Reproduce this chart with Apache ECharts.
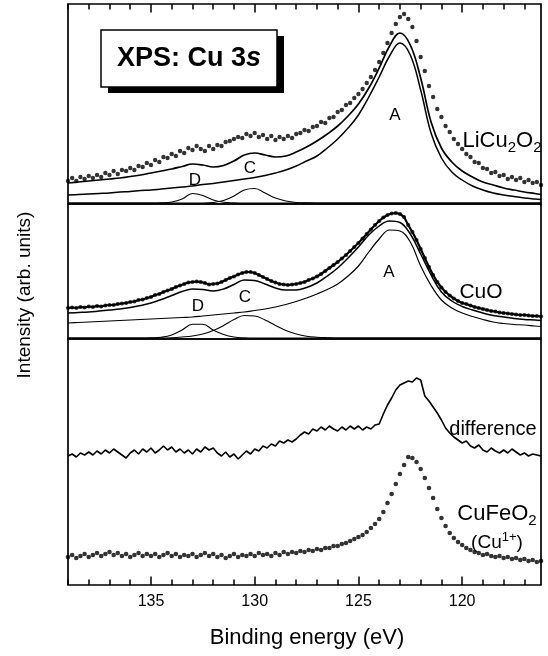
<!DOCTYPE html>
<html>
<head>
<meta charset="utf-8">
<script src="https://cdn.jsdelivr.net/npm/echarts@6/dist/echarts.min.js"></script>
<style>
html, body { margin: 0; padding: 0; background: #fff; }
#chart { width: 548px; height: 656px; }
</style>
</head>
<body>
<div id="chart"></div>
<script>
// binding energy grid of the fitted curves (eV)
const fitEnergy = [139, 138.5, 138, 137.5, 137, 136.5, 136, 135.5, 135, 134.5, 134, 133.5, 133, 132.5, 132, 131.5,
  131, 130.5, 130, 129.5, 129, 128.5, 128, 127.5, 127, 126.5, 126, 125.5, 125, 124.5, 124, 123.5, 123, 122.5,
  122, 121.5, 121, 120.5, 120, 119.5, 119, 118.5, 118, 117.5, 117, 116.5, 116.2]

// binding energy grid of the measured spectra (eV)
const dataEnergy = [
  139, 138.8, 138.6, 138.4, 138.2, 138, 137.8, 137.6, 137.4, 137.2,
  137, 136.8, 136.6, 136.4, 136.2, 136, 135.8, 135.6, 135.4, 135.2,
  135, 134.8, 134.6, 134.4, 134.2, 134, 133.8, 133.6, 133.4, 133.2,
  133, 132.8, 132.6, 132.4, 132.2, 132, 131.8, 131.6, 131.4, 131.2,
  131, 130.8, 130.6, 130.4, 130.2, 130, 129.8, 129.6, 129.4, 129.2,
  129, 128.8, 128.6, 128.4, 128.2, 128, 127.8, 127.6, 127.4, 127.2,
  127, 126.8, 126.6, 126.4, 126.2, 126, 125.8, 125.6, 125.4, 125.2,
  125, 124.8, 124.6, 124.4, 124.2, 124, 123.8, 123.6, 123.4, 123.2,
  123, 122.8, 122.6, 122.4, 122.2, 122, 121.8, 121.6, 121.4, 121.2,
  121, 120.8, 120.6, 120.4, 120.2, 120, 119.8, 119.6, 119.4, 119.2,
  119, 118.8, 118.6, 118.4, 118.2, 118, 117.8, 117.6, 117.4, 117.2,
  117, 116.8, 116.6, 116.4, 116.2]

// LiCu2O2 (top panel)
const liData = [
  23, 26, 23, 27, 25, 28, 26, 29, 27, 31,
  29, 33, 30, 34, 33, 36, 34, 38, 37, 41,
  39, 44, 42, 47, 46, 50, 48, 53, 51, 56,
  54, 58, 55, 53, 58, 55, 59, 58, 62, 63,
  65, 67, 66, 70, 68, 71, 67, 69, 65, 68,
  64, 67, 65, 68, 66, 70, 71, 74, 73, 77,
  78, 82, 81, 86, 87, 92, 94, 99, 101, 106,
  110, 115, 121, 127, 134, 142, 151, 161, 171, 180,
  187, 190, 185, 177, 163, 147, 133, 118, 107, 95,
  87, 78, 72, 65, 60, 55, 50, 47, 42, 41,
  36, 35, 31, 32, 28, 29, 25, 27, 24, 26,
  22, 24, 21, 22, 19]
const liFit = [21, 22, 23, 24, 25, 26, 27.5, 29, 31, 33, 35, 37.5, 40, 39, 37, 38.5, 43, 49, 51, 49, 47, 48,
  52, 57, 63, 70, 78, 88, 100, 116, 136, 158, 171, 159, 126, 82, 56, 42, 33, 27, 22, 19, 16, 14, 12, 10.5, 9.5]
const liPeakA = [9, 9.5, 10, 10.5, 11, 12, 12.5, 13.5, 14, 15, 16, 17, 18, 19.5, 20.5, 22, 23.5, 25, 26.5, 28.5,
  31, 34, 38, 43, 48, 56, 65, 76, 89, 107, 127, 148, 161, 149, 114, 71, 46, 32, 24, 18, 14, 11, 9, 7.5, 6, 5, 4.5]
const liPeakC = [1, 1, 1, 1, 1, 1, 1, 1, 1, 1, 1, 1, 1, 1, 1.5, 3.5, 8, 14, 15.5, 11, 6, 3, 1.5, 1.1,
  1, 1, 1, 1, 1, 1, 1, 1, 1, 1, 1, 1, 1, 1, 1, 1, 1, 1, 1, 1, 1, 1, 1]
const liPeakD = [1, 1, 1, 1, 1, 1, 1, 1, 1, 1.2, 2, 5, 10.5, 8.5, 4, 1.8, 1.2,
  1, 1, 1, 1, 1, 1, 1, 1, 1, 1, 1, 1, 1, 1, 1, 1, 1, 1, 1, 1, 1, 1, 1, 1, 1, 1, 1, 1, 1, 1]

// CuO (middle panel)
const cuoData = [
  31, 31.5, 31, 32, 31.5, 32.5, 32, 33, 32.5, 33.5,
  34, 34, 35, 35.5, 36, 37, 37.5, 39, 39.5, 41,
  42, 44, 45, 47, 48.5, 50, 52, 53.5, 55, 56.5,
  57, 57.5, 57, 56, 54.5, 55, 55.5, 57, 59, 61,
  62.5, 64.5, 66, 67, 67, 66, 64, 62, 60, 58,
  56.5, 55, 54.5, 54, 54.5, 55, 56, 57, 59, 60.5,
  62.5, 65, 68, 71, 74, 77, 80.5, 84, 88, 92,
  96, 100.5, 105, 109.5, 114, 118, 121.5, 124, 125.5, 126,
  125, 122, 114, 107, 99, 90, 81, 72, 64, 57,
  51.5, 47, 43.5, 40.5, 38, 36, 35, 33.5, 32, 31,
  30, 29, 28, 27.5, 26.5, 26, 25.5, 25, 24.5, 24,
  24, 23.5, 23, 23, 22.5]
const cuoFit = [26, 26.5, 27, 28, 29, 30, 31.5, 33.5, 36, 39.5, 43.5, 47.5, 50, 49.5, 48, 50, 54.5, 59, 58.5, 55,
  51, 49, 49, 51.5, 56, 63, 71, 81, 92, 104, 113, 118, 116.5, 105, 85, 64, 47, 38, 32.5, 29, 26, 23.5, 22, 20.5,
  19.5, 19, 18.5]
const cuoPeakA = [16, 16.5, 17, 17.5, 18, 18.5, 19, 19.5, 20, 20.5, 21, 21.5, 22, 23, 24, 25, 26, 27, 28.5, 30,
  32, 34.5, 37.5, 41, 45, 49.5, 55, 63, 73, 87, 100, 109, 108, 97, 73, 53.5, 39, 31, 26, 22.5, 19.5, 17, 15.5,
  14.5, 14, 13, 12.5]
const cuoPeakC = [1, 1, 1, 1, 1, 1, 1, 1, 1, 1, 1.3, 2, 3, 5, 8.5, 13.5, 19.5, 23.5, 23, 19, 13.5, 8.5, 5, 2.8,
  1.8, 1.3, 1, 1, 1, 1, 1, 1, 1, 1, 1, 1, 1, 1, 1, 1, 1, 1, 1, 1, 1, 1, 1]
const cuoPeakD = [1, 1, 1, 1, 1, 1, 1, 1, 1.2, 1.8, 4, 9, 14.7, 14.7, 9, 4.5, 2, 1.2,
  1, 1, 1, 1, 1, 1, 1, 1, 1, 1, 1, 1, 1, 1, 1, 1, 1, 1, 1, 1, 1, 1, 1, 1, 1, 1, 1, 1, 1]

// difference and CuFeO2 (bottom panel)
const diffCurve = [
  129, 131, 128, 132, 130, 133, 130, 134, 131, 135,
  132, 136, 133, 130, 127, 132, 135, 131, 136, 133,
  137, 132, 135, 139, 135, 138, 133, 136, 132, 135,
  131, 136, 133, 138, 135, 137, 132, 129, 133, 128,
  131, 126, 130, 134, 131, 136, 134, 139, 137, 141,
  139, 144, 142, 145, 143, 146, 150, 153, 151, 156,
  154, 158, 155, 159, 156, 154, 158, 155, 159, 156,
  159, 155, 158, 156, 160, 161, 171, 180, 187, 195,
  200, 202, 204, 203, 207, 205, 189, 184, 178, 172,
  165, 157, 152, 148, 145, 142, 144, 139, 137, 140,
  135, 133, 137, 134, 132, 135, 132, 136, 133, 130,
  132, 129, 131, 130, 129]
const cuFeData = [
  28, 30, 27, 29, 31, 28, 30, 32, 29, 31,
  33, 30, 32, 29, 31, 28, 30, 32, 29, 31,
  29, 31, 28, 30, 32, 29, 31, 28, 30, 29,
  31, 28, 30, 32, 29, 31, 28, 30, 27, 29,
  31, 28, 30, 29, 31, 29, 32, 30, 31, 29,
  32, 30, 33, 31, 33, 32, 34, 33, 35, 34,
  36, 35, 37, 37, 39, 39, 41, 42, 44, 46,
  48, 50, 53, 57, 61, 66, 73, 82, 91, 101,
  111, 120, 128, 127, 123, 116, 107, 97, 87, 76,
  67, 59, 52, 47, 43, 40, 37, 35, 33, 32,
  30, 31, 29, 28, 29, 27, 28, 26, 27, 25,
  26, 24, 25, 23, 24]

const FONT = "'Liberation Sans', Arial, Helvetica, sans-serif"

// plot frame: 68 px from the left, 7 px from the right, 116.2 .. 139 eV across
const PX_PER_EV = 473 / 22.8

const chart = echarts.init(document.getElementById("chart"))

function pairs (xs, ys) {
  return xs.map((x, i) => [x, ys[i]])
}

function dots (xIdx, yIdx, values, size) {
  return {
    type: "scatter",
    xAxisIndex: xIdx,
    yAxisIndex: yIdx,
    data: pairs(dataEnergy, values),
    symbol: "circle",
    symbolSize: size,
    itemStyle: { color: "#000" },
    silent: true
  }
}

function curve (xIdx, yIdx, xs, values, width, smooth) {
  return {
    type: "line",
    xAxisIndex: xIdx,
    yAxisIndex: yIdx,
    data: pairs(xs, values),
    showSymbol: false,
    smooth: smooth,
    lineStyle: { color: "#000", width: width },
    silent: true
  }
}

function label (text, x, y, size, rich) {
  return {
    type: "text",
    x: x,
    y: y,
    silent: true,
    style: {
      text: text,
      fill: "#000",
      font: size + "px " + FONT,
      align: "center",
      verticalAlign: "middle",
      rich: rich
    }
  }
}

const panelBase = {
  left: 68,
  right: 7,
  show: true,
  borderColor: "#000",
  borderWidth: 1.7,
  backgroundColor: "transparent",
  containLabel: false,
  outerBoundsMode: "none"
}

// invisible grids that only carry the tick marks (min must sit on a tick)
const tickGridMinor = { left: 68, right: 7 + 0.8 * PX_PER_EV, show: false, containLabel: false, outerBoundsMode: "none" }
const tickGridMajor = {
  left: 68 + 4 * PX_PER_EV,
  right: 7 + 3.8 * PX_PER_EV,
  show: false,
  containLabel: false,
  outerBoundsMode: "none"
}

const xBase = {
  type: "value",
  min: 116.2,
  max: 139,
  inverse: true,
  axisLine: { show: false, onZero: false },
  splitLine: { show: false },
  axisLabel: { show: false },
  axisTick: { show: false }
}

function tickAxis (gridIndex, position, min, max, interval, length, showLabel) {
  return {
    type: "value",
    gridIndex: gridIndex,
    position: position,
    min: min,
    max: max,
    interval: interval,
    inverse: true,
    // keep the axis on the frame edge, not on y = 0
    axisLine: { show: false, onZero: false },
    splitLine: { show: false },
    axisTick: { show: true, inside: true, length: length, lineStyle: { color: "#000", width: 1.5 } },
    axisLabel: {
      show: showLabel,
      color: "#000",
      fontSize: 16,
      fontFamily: FONT,
      margin: 9
    }
  }
}

const hiddenY = (gridIndex, max) => ({ type: "value", gridIndex: gridIndex, min: 0, max: max, show: false })

const subRich = {
  sub: { fontSize: 15, fontFamily: FONT, verticalAlign: "bottom", lineHeight: 28 },
  sup: { fontSize: 13, fontFamily: FONT, verticalAlign: "top", lineHeight: 24 },
  m: { fontSize: 22, fontFamily: FONT, lineHeight: 28 },
  p: { fontSize: 19, fontFamily: FONT, lineHeight: 24 }
}

const option = {
  animation: false,
  backgroundColor: "#fff",
  grid: [
    { ...panelBase, top: 4, height: 200 },
    { ...panelBase, top: 204, height: 135 },
    { ...panelBase, top: 339, height: 246 },
    { ...tickGridMinor, top: 4, height: 200 },
    { ...tickGridMajor, top: 4, height: 200 },
    { ...tickGridMinor, top: 339, height: 246 },
    { ...tickGridMajor, top: 339, height: 246 }
  ],
  xAxis: [
    { ...xBase, gridIndex: 0 },
    { ...xBase, gridIndex: 1 },
    { ...xBase, gridIndex: 2 },
    tickAxis(3, "top", 117, 139, 1, 5.5, false),
    tickAxis(4, "top", 120, 135, 5, 8.5, false),
    tickAxis(5, "bottom", 117, 139, 1, 5.5, false),
    tickAxis(6, "bottom", 120, 135, 5, 8.5, true)
  ],
  yAxis: [
    hiddenY(0, 200),
    hiddenY(1, 135),
    hiddenY(2, 246),
    hiddenY(3, 1),
    hiddenY(4, 1),
    hiddenY(5, 1),
    hiddenY(6, 1)
  ],
  series: [
    // LiCu2O2
    curve(0, 0, fitEnergy, liPeakD, 1.1, 0.4),
    curve(0, 0, fitEnergy, liPeakC, 1.1, 0.4),
    curve(0, 0, fitEnergy, liPeakA, 1.5, 0.4),
    curve(0, 0, fitEnergy, liFit, 1.7, 0.4),
    dots(0, 0, liData, 4.4),
    // CuO
    curve(1, 1, fitEnergy, cuoPeakD, 1.1, 0.4),
    curve(1, 1, fitEnergy, cuoPeakC, 1.1, 0.4),
    curve(1, 1, fitEnergy, cuoPeakA, 1.2, 0.4),
    curve(1, 1, fitEnergy, cuoFit, 1.5, 0.4),
    curve(1, 1, dataEnergy, cuoData, 2.2, false),
    dots(1, 1, cuoData, 4.2),
    // difference and CuFeO2
    curve(2, 2, dataEnergy, diffCurve, 1.6, false),
    dots(2, 2, cuFeData, 4.6)
  ],
  graphic: [
    // title box with its drop shadow
    { type: "rect", silent: true, shape: { x: 108, y: 36, width: 176, height: 57 }, style: { fill: "#000" } },
    {
      type: "rect",
      silent: true,
      shape: { x: 101, y: 30, width: 176, height: 57 },
      style: { fill: "#fff", stroke: "#000", lineWidth: 1.5 }
    },
    label("{b|XPS: Cu 3}{i|s}", 189, 59, 27, {
      b: { font: "bold 27px " + FONT },
      i: { font: "italic bold 27px " + FONT }
    }),
    label("A", 395, 115, 17),
    label("D", 195, 180, 17),
    label("C", 250, 168, 17),
    label("{m|LiCu}{sub|2}{m|O}{sub|2}", 502, 141, 22, subRich),
    label("A", 389, 272, 17),
    label("D", 198, 306, 17),
    label("C", 245, 297, 17),
    label("CuO", 481, 292, 21),
    label("difference", 493, 429, 20),
    label("{m|CuFeO}{sub|2}", 497, 514, 22, subRich),
    label("{p|(Cu}{sup|1+}{p|)}", 497, 543, 19, subRich),
    label("Binding energy (eV)", 307, 638, 22),
    { ...label("Intensity (arb. units)", 25, 295, 19), rotation: Math.PI / 2 }
  ]
}

chart.setOption(option)
</script>
</body>
</html>
